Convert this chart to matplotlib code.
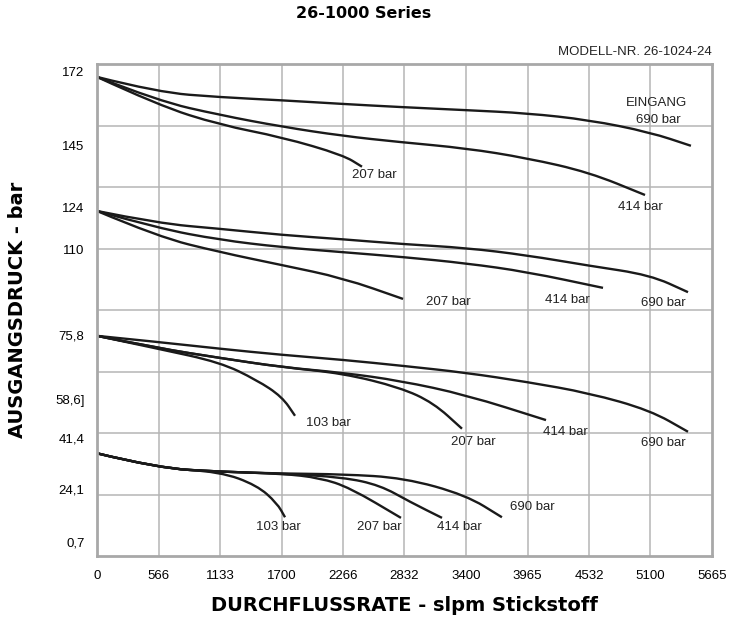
import matplotlib
matplotlib.use("Agg")
import matplotlib.pyplot as plt
from matplotlib.path import Path
from matplotlib.patches import PathPatch

# x in slpm, y in chart rows (the pressure axis is drawn as a schematic, 8 rows)
x_ticks = [0, 566, 1133, 1700, 2266, 2832, 3400, 3965, 4532, 5100, 5665]
y_tick_pos = [7.87, 6.67, 5.67, 4.99, 3.59, 2.54, 1.92, 1.09, 0.23]
y_tick_labels = ["172", "145", "124", "110", "75,8", "58,6]", "41,4", "24,1", "0,7"]

# outlet 172 bar
g1_690_x = [0, 562, 1133, 1704, 2266, 2791, 3399, 3961, 4532, 5094, 5471]
g1_690_y = [7.79, 7.54, 7.46, 7.41, 7.35, 7.30, 7.25, 7.20, 7.09, 6.89, 6.67]
g1_414_x = [0, 562, 1133, 1704, 2266, 2791, 3399, 3961, 4532, 5048]
g1_414_y = [7.79, 7.40, 7.17, 6.98, 6.83, 6.73, 6.63, 6.47, 6.24, 5.87]
g1_207_x = [0, 562, 1133, 1704, 2266, 2441]
g1_207_y = [7.79, 7.33, 7.01, 6.81, 6.52, 6.33]

# outlet 124 bar
g2_690_x = [0, 562, 1133, 1704, 2266, 2828, 3399, 3961, 4532, 5094, 5444]
g2_690_y = [5.61, 5.41, 5.32, 5.22, 5.15, 5.07, 5.01, 4.89, 4.72, 4.57, 4.29]
g2_414_x = [0, 562, 1133, 1704, 2266, 2828, 3399, 3961, 4661]
g2_414_y = [5.61, 5.33, 5.14, 5.02, 4.94, 4.86, 4.76, 4.62, 4.36]
g2_207_x = [0, 562, 1133, 1704, 2266, 2819]
g2_207_y = [5.61, 5.19, 4.94, 4.73, 4.52, 4.18]

# outlet 75,8 bar
g3_690_x = [0, 562, 1133, 1704, 2266, 2828, 3399, 3961, 4532, 5094, 5444]
g3_690_y = [3.58, 3.48, 3.37, 3.27, 3.19, 3.09, 2.98, 2.83, 2.65, 2.37, 2.02]
g3_414_x = [0, 562, 1133, 1704, 2266, 2791, 3399, 4136]
g3_414_y = [3.58, 3.38, 3.22, 3.07, 2.98, 2.85, 2.62, 2.21]
g3_207_x = [0, 562, 1133, 1704, 2266, 2791, 3099, 3362]
g3_207_y = [3.58, 3.38, 3.22, 3.07, 2.97, 2.74, 2.49, 2.07]
g3_103_x = [0, 562, 1133, 1473, 1704, 1824]
g3_103_y = [3.58, 3.37, 3.15, 2.86, 2.59, 2.28]

# outlet 24,1 bar
g4_690_x = [0, 562, 1133, 1704, 2266, 2828, 3399, 3730]
g4_690_y = [1.67, 1.43, 1.37, 1.34, 1.33, 1.27, 0.99, 0.63]
g4_414_x = [0, 562, 1133, 1704, 2266, 2607, 2883, 3178]
g4_414_y = [1.67, 1.43, 1.37, 1.34, 1.28, 1.15, 0.88, 0.62]
g4_207_x = [0, 562, 1133, 1704, 2054, 2330, 2800]
g4_207_y = [1.67, 1.43, 1.37, 1.34, 1.27, 1.11, 0.62]
g4_103_x = [0, 562, 1133, 1473, 1658, 1732]
g4_103_y = [1.67, 1.43, 1.37, 1.15, 0.86, 0.63]

curves = [
    (g1_690_x, g1_690_y), (g1_414_x, g1_414_y), (g1_207_x, g1_207_y),
    (g2_690_x, g2_690_y), (g2_414_x, g2_414_y), (g2_207_x, g2_207_y),
    (g3_690_x, g3_690_y), (g3_414_x, g3_414_y), (g3_207_x, g3_207_y), (g3_103_x, g3_103_y),
    (g4_690_x, g4_690_y), (g4_414_x, g4_414_y), (g4_207_x, g4_207_y), (g4_103_x, g4_103_y),
]

# curve labels: (x, y, text)
labels = [
    (2558, 6.20, "207 bar"), (5002, 5.67, "414 bar"),
    (3233, 4.13, "207 bar"), (4330, 4.16, "414 bar"), (5213, 4.11, "690 bar"),
    (2127, 2.16, "103 bar"), (3467, 1.86, "207 bar"), (4312, 2.02, "414 bar"), (5213, 1.84, "690 bar"),
    (1670, 0.47, "103 bar"), (2598, 0.47, "207 bar"), (3335, 0.47, "414 bar"), (4008, 0.80, "690 bar"),
]


def smooth_path(xs, ys):
    # quadratic bezier through the midpoints, read points used as control points
    pts = list(zip(xs, ys))
    verts = [pts[0]]
    codes = [Path.MOVETO]
    for i in range(1, len(pts) - 1):
        mid = ((pts[i][0] + pts[i + 1][0]) / 2, (pts[i][1] + pts[i + 1][1]) / 2)
        verts += [pts[i], mid]
        codes += [Path.CURVE3, Path.CURVE3]
    verts.append(pts[-1])
    codes.append(Path.LINETO)
    return Path(verts, codes)


fig = plt.figure(figsize=(7.29, 6.2), dpi=100)
ax = fig.add_axes([97 / 729, 64 / 620, 615 / 729, 492 / 620])

for cx, cy in curves:
    ax.add_patch(PathPatch(smooth_path(cx, cy), facecolor="none",
                           edgecolor="#1a1a1a", lw=1.7, capstyle="butt"))

for lx, ly, txt in labels:
    ax.text(lx, ly, txt, ha="center", va="center", fontsize=9.5,
            family="Liberation Sans", color="#222222")

ax.text(5150, 7.36, "EINGANG", ha="center", va="center", fontsize=9.5,
        family="Liberation Sans", color="#222222")
ax.text(5170, 7.09, "690 bar", ha="center", va="center", fontsize=9.5,
        family="Liberation Sans", color="#222222")

ax.set_xlim(0, 5665)
ax.set_ylim(0, 8)
ax.set_xticks([566.5 * i for i in range(11)])
ax.set_xticklabels([str(v) for v in x_ticks], fontsize=9.5, family="Liberation Sans")
ax.set_yticks(y_tick_pos)
ax.set_yticklabels(y_tick_labels, fontsize=9.5, family="Liberation Sans")
ax.tick_params(length=0, pad=9)
ax.tick_params(axis="x", pad=10)

for i in range(1, 10):
    ax.axvline(566.5 * i, color="#b5b5b5", lw=1.1, zorder=0)
for j in range(1, 8):
    ax.axhline(j, color="#b5b5b5", lw=1.1, zorder=0)
for s in ax.spines.values():
    s.set_color("#a8a8a8")
    s.set_linewidth(2)

ax.set_xlabel("DURCHFLUSSRATE - slpm Stickstoff", fontsize=14, fontweight="heavy",
              family="DejaVu Sans", labelpad=10)
ax.set_ylabel("AUSGANGSDRUCK - bar", fontsize=14, fontweight="heavy",
              family="DejaVu Sans", labelpad=20)

fig.text(364 / 729, 1 - 14 / 620, "26-1000 Series", ha="center", va="center",
         fontsize=11.5, fontweight="bold", family="DejaVu Sans")
fig.text(712 / 729, 1 - 52 / 620, "MODELL-NR. 26-1024-24", ha="right", va="center",
         fontsize=9.5, family="Liberation Sans", color="#222222")

fig.savefig("out.png", dpi=100)
